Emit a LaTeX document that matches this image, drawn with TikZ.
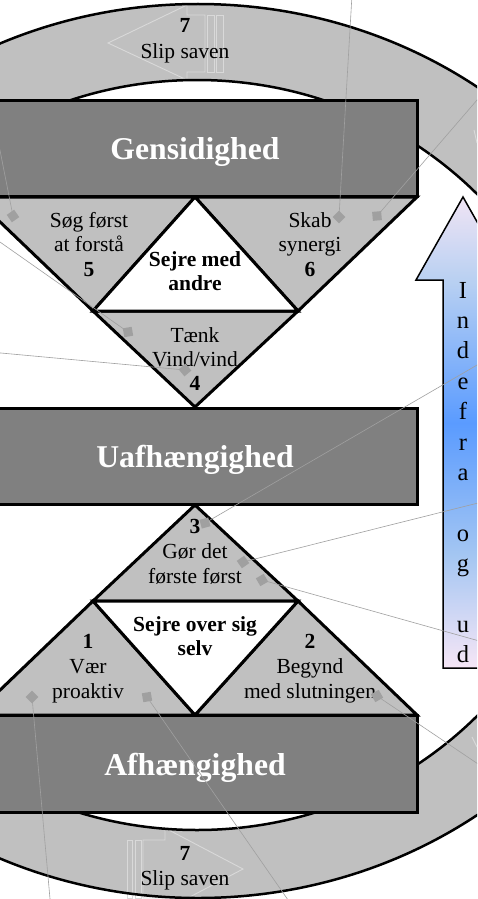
\documentclass[tikz,border=0pt]{standalone}
\usepackage{fontspec}
\setmainfont{Liberation Serif}
\definecolor{ringgray}{HTML}{C0C0C0}
\definecolor{bargray}{HTML}{808080}
\definecolor{ghostgray}{HTML}{D9D9D9}
\definecolor{mkgray}{HTML}{A0A0A0}
\definecolor{pkt}{HTML}{F0E4F4}
\definecolor{lb1}{HTML}{B8D0F2}
\definecolor{mb}{HTML}{5A9BFF}
\definecolor{lb2}{HTML}{A4C6F2}
\definecolor{pkb}{HTML}{F6E6F6}
\pgfdeclareverticalshading{indef}{100bp}{color(0bp)=(pkb); color(25bp)=(pkb); color(37bp)=(lb2); color(51bp)=(mb); color(66bp)=(lb1); color(75bp)=(pkt); color(100bp)=(pkt)}
\tikzset{
  ringfill/.style={fill=ringgray, even odd rule},
  ringedge/.style={draw=black, line width=2.5pt},
  bar/.style={fill=bargray, draw=black, line width=3pt},
  tri/.style={fill=ringgray, draw=black, line width=3pt, line join=miter},
  wtri/.style={fill=white, draw=black, line width=3pt, line join=miter},
  ghost/.style={draw=ghostgray, line width=0.9pt},
  bigtxt/.style={font=\fontsize{31.7}{38}\selectfont\bfseries, text=white, anchor=base, inner sep=0pt},
  txt/.style={font=\fontsize{21.5}{24.5}\selectfont, anchor=base, inner sep=0pt},
  btxt/.style={font=\fontsize{21.5}{24.5}\selectfont\bfseries, anchor=base, inner sep=0pt},
  ltr/.style={font=\fontsize{24.5}{30}\selectfont, anchor=base, inner sep=0pt},
  mk/.style={fill=mkgray, minimum size=9pt, inner sep=0pt, rectangle},
  call/.style={draw=mkgray, line width=0.6pt},
  bigarrow/.style={draw=black, line width=1.5pt, shading=indef},
}
\begin{document}
\begin{tikzpicture}[x=1pt,y=-1pt]
\useasboundingbox (0,0) rectangle (477,899);
\clip (0,0) rectangle (477,899);
\fill[white] (0,0) rectangle (477,899);
% ring
\path[ringfill] (198,451) ellipse [x radius=481pt, y radius=447pt] (197,455) ellipse [x radius=390pt, y radius=375pt];
% ghost arrows in the ring
\draw[ghost] (108,43) -- (187,5) -- (187,15) -- (205,15) -- (205,72) -- (187,72) -- (187,80) -- cycle;
\draw[ghost] (207,15) rectangle (214,72);
\draw[ghost] (216,15) rectangle (223,72);
\draw[ghost] (243,869) -- (165,828) -- (165,840) -- (143,840) -- (143,898) -- (165,898) -- (165,910) -- cycle;
\draw[ghost] (135,840) rectangle (141,898);
\draw[ghost] (127,840) rectangle (132,898);
\draw[ghost] (474,130) -- (477,143);
\draw[ghost] (472,737) -- (477,747);
\draw[ringedge] (198,451) ellipse [x radius=481pt, y radius=447pt];
\draw[ringedge] (197,455) ellipse [x radius=390pt, y radius=375pt];
% upper group of triangles
\draw[tri] (-26,197) -- (195,197) -- (93,311) -- cycle;
\draw[tri] (195,197) -- (417,197) -- (298,311) -- cycle;
\draw[tri] (93,311) -- (298,311) -- (195,407) -- cycle;
\draw[wtri] (195,197) -- (298,311) -- (93,311) -- cycle;
% lower group of triangles
\draw[tri] (195,505) -- (298,601) -- (93,601) -- cycle;
\draw[tri] (93,601) -- (195,715) -- (-26,715) -- cycle;
\draw[tri] (298,601) -- (417,715) -- (195,715) -- cycle;
\draw[wtri] (93,601) -- (298,601) -- (195,715) -- cycle;
% bars
\draw[bar] (-27,100) rectangle (417,196);
\draw[bar] (-27,408) rectangle (417,504);
\draw[bar] (-27,715) rectangle (417,812);
\node[bigtxt] (gen) at (195,159) {Gensidighed};
\node[bigtxt] (uaf) at (195,467) {Uafhængighed};
\node[bigtxt] (afh) at (195,775) {Afhængighed};
% ring texts
\node[btxt] (s7a) at (185,33) {7};
\node[txt] (s7b) at (185,59) {Slip saven};
\node[btxt] (s7c) at (185,860) {7};
\node[txt] (s7d) at (185,885) {Slip saven};
% upper group texts
\node[txt] (h5a) at (89,227) {Søg først};
\node[txt] (h5b) at (89,251.5) {at forstå};
\node[btxt] (h5c) at (89,276) {5};
\node[txt] (h6a) at (310,227) {Skab};
\node[txt] (h6b) at (310,251.5) {synergi};
\node[btxt] (h6c) at (310,276) {6};
\node[btxt] (wa1) at (195,266) {Sejre med};
\node[btxt] (wa2) at (195,290) {andre};
\node[txt] (h4a) at (195,342) {Tænk};
\node[txt] (h4b) at (195,366) {Vind/vind};
\node[btxt] (h4c) at (195,390) {4};
% lower group texts
\node[btxt] (h3a) at (195,533) {3};
\node[txt] (h3b) at (195,558) {Gør det};
\node[txt] (h3c) at (195,583) {første først};
\node[btxt] (ws1) at (195,631) {Sejre over sig};
\node[btxt] (ws2) at (195,655) {selv};
\node[btxt] (h1a) at (88,648) {1};
\node[txt] (h1b) at (88,673) {Vær};
\node[txt] (h1c) at (88,698) {proaktiv};
\node[btxt] (h2a) at (310,648) {2};
\node[txt] (h2b) at (310,673) {Begynd};
\node[txt] (h2c) at (310,698) {med slutningen};
% inside-out arrow
\draw[bigarrow] (463,197) -- (510,280) -- (483,280) -- (483,668) -- (443,668) -- (443,280) -- (416,280) -- cycle;
\node[ltr] (l1) at (463,298) {I};
\node[ltr] (l2) at (463,328.4) {n};
\node[ltr] (l3) at (463,358.8) {d};
\node[ltr] (l4) at (463,389.2) {e};
\node[ltr] (l5) at (463,419.6) {f};
\node[ltr] (l6) at (463,450) {r};
\node[ltr] (l7) at (463,480.4) {a};
\node[ltr] (l8) at (463,541.2) {o};
\node[ltr] (l9) at (463,571.6) {g};
\node[ltr] (l10) at (463,632.4) {u};
\node[ltr] (l11) at (463,662.8) {d};
% callout lines
\coordinate (e1) at (-8,110);
\coordinate (e2) at (352,-5);
\coordinate (e3) at (490,85);
\coordinate (e4) at (-10,235);
\coordinate (e5) at (-10,352);
\coordinate (e6) at (490,357.5);
\coordinate (e7) at (490,500);
\coordinate (e8) at (490,644);
\coordinate (e9) at (51,910);
\coordinate (e10) at (295,910);
\coordinate (e11) at (490,772);
\node[mk, rotate=35] (m1) at (13,216) {};
\node[mk, rotate=45] (m2) at (339,217) {};
\node[mk, rotate=5] (m3) at (377,216) {};
\node[mk, rotate=10] (m4) at (128,332) {};
\node[mk, rotate=40] (m5) at (185,370) {};
\node[mk, rotate=15] (m6) at (205,523) {};
\node[mk, rotate=35] (m7) at (243,562) {};
\node[mk, rotate=30] (m8) at (262,580) {};
\node[mk, rotate=45] (m9) at (32,697) {};
\node[mk, rotate=10] (m10) at (147,697) {};
\node[mk, rotate=30] (m11) at (377,696) {};
\draw[call] (m1.center) -- (e1);
\draw[call] (m2.center) -- (e2);
\draw[call] (m3.center) -- (e3);
\draw[call] (m4.center) -- (e4);
\draw[call] (m5.center) -- (e5);
\draw[call] (m6.center) -- (e6);
\draw[call] (m7.center) -- (e7);
\draw[call] (m8.center) -- (e8);
\draw[call] (m9.center) -- (e9);
\draw[call] (m10.center) -- (e10);
\draw[call] (m11.center) -- (e11);
\end{tikzpicture}
\end{document}
